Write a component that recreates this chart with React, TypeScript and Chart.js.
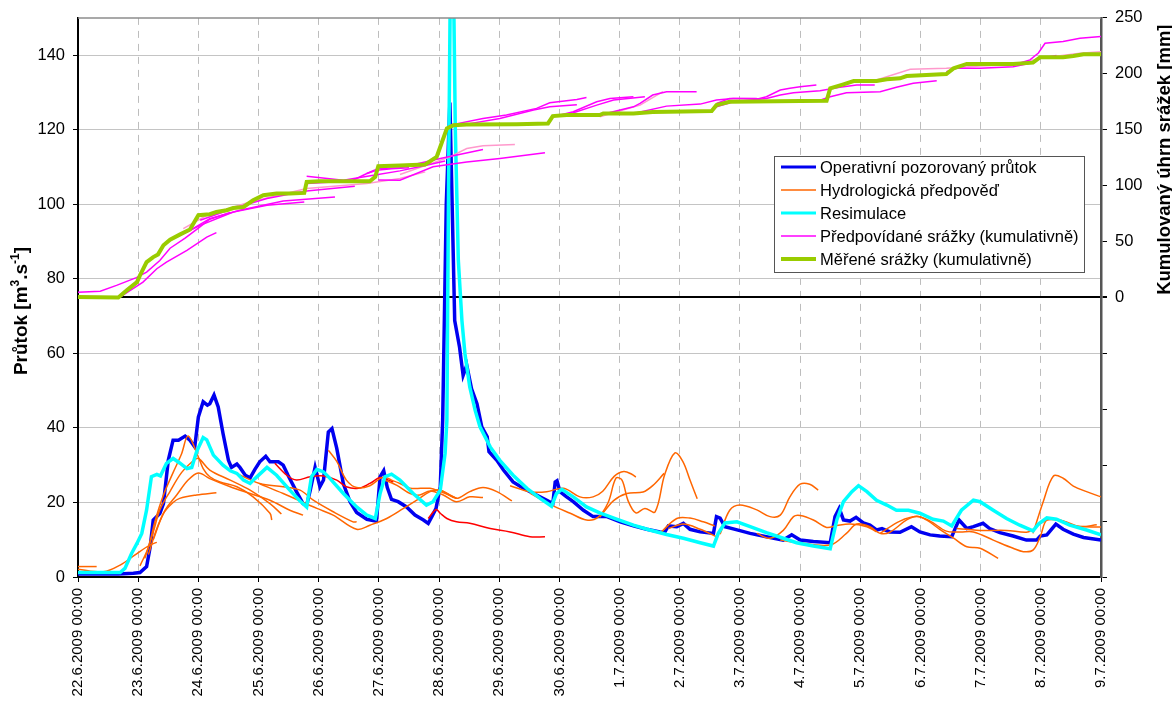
import React, { useEffect, useRef } from 'react';
import { Chart, registerables } from 'chart.js';

Chart.register(...registerables);

type Pt = [number, number];

// x values are days since 22.6.2009 00:00
const dateLabels = [
  '22.6.2009 00:00', '23.6.2009 00:00', '24.6.2009 00:00', '25.6.2009 00:00', '26.6.2009 00:00',
  '27.6.2009 00:00', '28.6.2009 00:00', '29.6.2009 00:00', '30.6.2009 00:00', '1.7.2009 00:00',
  '2.7.2009 00:00', '3.7.2009 00:00', '4.7.2009 00:00', '5.7.2009 00:00', '6.7.2009 00:00',
  '7.7.2009 00:00', '8.7.2009 00:00', '9.7.2009 00:00',
];
const flowTicks = [0, 20, 40, 60, 80, 100, 120, 140];
const rainTicks = [-250, -200, -150, -100, -50, 0, 50, 100, 150, 200, 250];

const legendLabels = [
  'Operativní pozorovaný průtok',
  'Hydrologická předpověď',
  'Resimulace',
  'Předpovídané srážky (kumulativně)',
  'Měřené srážky (kumulativně)',
];

const observedFlow: Pt[] = [
  [0, 0.8], [0.67, 0.8], [0.92, 1.0], [1.03, 1.2], [1.14, 2.8], [1.2, 8.1], [1.25, 15.3], [1.36, 17],
  [1.42, 19.7], [1.5, 31.3], [1.58, 36.7], [1.67, 36.7], [1.78, 37.8], [1.86, 36.7], [1.94, 34.9],
  [2.0, 42.9], [2.08, 47], [2.15, 46.1], [2.19, 46.5], [2.26, 48.8], [2.33, 45.6], [2.41, 38.5],
  [2.5, 31.3], [2.55, 29.4], [2.64, 30.3], [2.69, 29.4], [2.78, 27.3], [2.86, 26.6], [2.94, 28.9],
  [3.02, 30.9], [3.12, 32.4], [3.19, 30.9], [3.33, 30.9], [3.41, 30], [3.49, 27.3], [3.63, 22.9],
  [3.74, 19.7], [3.8, 19.3], [3.86, 23.3], [3.94, 29.4], [4.02, 24.2], [4.08, 26], [4.16, 38.9],
  [4.22, 39.8], [4.3, 34.5], [4.41, 25], [4.52, 20.2], [4.63, 17.3], [4.8, 15.5], [4.96, 15],
  [5.02, 26.9], [5.08, 28.5], [5.14, 24], [5.21, 20.8], [5.32, 20.2], [5.46, 18.8], [5.6, 16.6],
  [5.74, 15.3], [5.82, 14.4], [5.88, 16.2], [5.95, 18.4], [6.02, 24.2], [6.06, 42], [6.12, 100],
  [6.18, 127.3], [6.26, 68.8], [6.34, 61.7], [6.4, 54.1], [6.46, 56.8], [6.54, 50.5], [6.63, 46.5],
  [6.71, 40.3], [6.8, 37.6], [6.83, 33.6], [6.96, 31.3], [7.07, 28.7], [7.23, 25.5], [7.4, 23.8],
  [7.57, 22.4], [7.79, 20.6], [7.89, 19.7], [7.93, 25.5], [7.96, 25.8], [8.01, 22.9], [8.12, 21.5],
  [8.23, 20.2], [8.4, 17.9], [8.56, 16.2], [8.79, 16.2], [9.01, 14.8], [9.23, 13.7], [9.45, 12.8],
  [9.67, 12.1], [9.75, 12], [9.81, 13.7], [9.95, 13.5], [10.06, 14.4], [10.17, 12.8], [10.34, 12.1],
  [10.56, 11.7], [10.61, 16.2], [10.67, 15.8], [10.75, 13.5], [10.89, 12.9], [11.17, 11.7],
  [11.44, 10.8], [11.72, 9.9], [11.86, 11.3], [12.0, 9.9], [12.22, 9.5], [12.5, 9.2], [12.58, 16.2],
  [12.65, 18.4], [12.72, 15.3], [12.83, 15], [12.93, 16], [13.05, 14.5], [13.16, 13.9], [13.27, 12.6],
  [13.36, 13], [13.49, 12.1], [13.66, 12], [13.85, 13.5], [13.99, 12.1], [14.16, 11.3], [14.32, 11],
  [14.52, 10.8], [14.59, 13.5], [14.64, 15.3], [14.77, 13], [14.88, 13.5], [15.04, 14.4], [15.15, 13],
  [15.32, 11.9], [15.54, 11], [15.76, 9.9], [15.93, 9.9], [15.99, 11], [16.1, 11.3], [16.25, 14.2],
  [16.37, 12.8], [16.54, 11.5], [16.71, 10.6], [17, 9.9],
];

const resimulation: Pt[] = [
  [0, 1.2], [0.7, 1.2], [0.78, 2.3], [0.89, 6.3], [0.98, 9], [1.06, 11.7], [1.14, 18], [1.22, 26.9],
  [1.31, 27.5], [1.37, 27.1], [1.47, 30.5], [1.58, 31.8], [1.69, 30.6], [1.81, 29.1], [1.89, 29.4],
  [1.97, 33.6], [2.08, 37.4], [2.14, 36.8], [2.25, 32.7], [2.41, 30], [2.53, 28.5], [2.64, 27.8],
  [2.75, 26], [2.86, 25.1], [2.94, 26.4], [3.14, 29.4], [3.3, 27.3], [3.52, 23.3], [3.69, 20.4],
  [3.8, 18.8], [3.88, 26.9], [3.97, 28.9], [4.08, 28.2], [4.19, 26.4], [4.41, 22.4], [4.63, 18.8],
  [4.8, 16.6], [4.94, 15.7], [5.02, 22.4], [5.1, 26.9], [5.21, 27.6], [5.35, 26], [5.57, 22.4],
  [5.79, 19.3], [5.9, 20.2], [6.02, 23.3], [6.1, 33.1], [6.13, 42], [6.16, 110], [6.21, 200],
  [6.27, 120], [6.32, 85], [6.38, 68.8], [6.43, 59.9], [6.51, 51], [6.6, 44.7], [6.68, 40.3],
  [6.85, 34.9], [7.01, 31.3], [7.23, 27.3], [7.46, 23.8], [7.68, 21.1], [7.87, 19], [7.95, 22.4],
  [8.04, 23.5], [8.23, 21.5], [8.45, 18.8], [8.67, 17.2], [8.95, 15.5], [9.23, 13.9], [9.5, 12.6],
  [9.78, 11.4], [10.06, 10.4], [10.34, 9.2], [10.56, 8.3], [10.64, 11.7], [10.75, 14.5], [10.95, 14.8],
  [11.17, 13.5], [11.44, 11.9], [11.72, 10.4], [11.94, 9.2], [12.22, 8.3], [12.5, 7.6], [12.61, 15.3],
  [12.72, 20.2], [12.86, 22.9], [12.97, 24.5], [13.11, 22.9], [13.27, 20.6], [13.44, 19.3],
  [13.6, 17.9], [13.8, 17.9], [13.99, 17.1], [14.21, 15.5], [14.38, 15], [14.52, 13.7], [14.68, 17.9],
  [14.88, 20.6], [14.99, 20.2], [15.21, 17.9], [15.43, 15.7], [15.65, 13.9], [15.87, 12.4],
  [15.96, 14.2], [16.1, 15.9], [16.26, 15.5], [16.48, 13.9], [16.76, 12.6], [17, 11.3],
];

const hydroForecasts: Pt[][] = [
  [[0, 2.8], [0.31, 2.8]],
  [[0, 2.1], [0.42, 1.4], [0.7, 3.2], [0.98, 6.3], [1.2, 8.6], [1.31, 9.3]],
  [[1.03, 3], [1.17, 8], [1.28, 15], [1.42, 22], [1.58, 28], [1.72, 33], [1.83, 37.8], [2.0, 32.2],
    [2.08, 29.1], [2.19, 26.9], [2.36, 25.5], [2.64, 24.2], [2.91, 21.5], [3.19, 17.1], [3.22, 15.3]],
  [[1.11, 5], [1.25, 12], [1.36, 18], [1.53, 23], [1.72, 28], [1.9, 31], [2.0, 31.8], [2.19, 28.7],
    [2.53, 26], [2.86, 23.3], [3.19, 19.7], [3.38, 16.9]],
  [[1.17, 6], [1.31, 13], [1.45, 18], [1.64, 22], [1.83, 26], [2.0, 27.9], [2.19, 26.4], [2.53, 24.2],
    [2.86, 22.4], [3.19, 20.6], [3.52, 17.9], [3.74, 16.6]],
  [[1.25, 10], [1.42, 17], [1.58, 20], [1.69, 21.1], [1.97, 22], [2.3, 22.6]],
  [[2.58, 28.2], [3.02, 25.1], [3.41, 24.2], [3.69, 23.3], [3.91, 20.6], [4.24, 17.5], [4.57, 14.8],
    [4.63, 14.8]],
  [[3.02, 25], [3.41, 22.4], [3.97, 18.4], [4.24, 16.6], [4.63, 12.8], [4.85, 13.9], [5.13, 15.7],
    [5.41, 18.4], [5.63, 20.6], [5.85, 22.9], [6.02, 23.3], [6.18, 22], [6.29, 21.1]],
  [[4.16, 34], [4.3, 31], [4.46, 26], [4.63, 24], [4.85, 24.5], [5.07, 26.8], [5.21, 26], [5.35, 25.1],
    [5.52, 23.8], [5.85, 23.8], [6.02, 22.9], [6.29, 21.1]],
  [[5.1, 26], [5.3, 24.6], [5.52, 22.4], [5.68, 22], [5.85, 23.1], [6.07, 22], [6.29, 20.2],
    [6.51, 21.5], [6.73, 21.3]],
  [[5.85, 23], [6.02, 23.3], [6.13, 22.4], [6.29, 21.1], [6.51, 22.9], [6.73, 24], [6.96, 22.9],
    [7.21, 20.4]],
  [[7.18, 24.5], [7.51, 22.9], [7.79, 22.9], [8.07, 23.8], [8.34, 21.5], [8.56, 21.5], [8.72, 23],
    [8.91, 27], [9.07, 28.3], [9.21, 27.5], [9.27, 26.8]],
  [[7.51, 22.5], [7.87, 19.3], [8.18, 17.1], [8.45, 15.3], [8.64, 16], [8.81, 20], [8.94, 26.5],
    [9.04, 26], [9.14, 20.5], [9.27, 17.2], [9.42, 18.4], [9.59, 17.5], [9.75, 27.5], [9.92, 33.3],
    [10.05, 31], [10.17, 26], [10.29, 21]],
  [[8.67, 16], [8.9, 20.5], [9.12, 22.4], [9.39, 22.8], [9.55, 24.5], [9.74, 27.8]],
  [[9.67, 11.7], [9.95, 15.7], [10.17, 15.8], [10.39, 14.8], [10.58, 13.7]],
  [[9.81, 13], [10.06, 14.2], [10.34, 12.8], [10.61, 10.8]],
  [[10.67, 11.5], [10.83, 17.9], [11.0, 19.3], [11.28, 18], [11.5, 16.2], [11.67, 16.6], [11.83, 21.5],
    [12.0, 24.9], [12.16, 24.9], [12.3, 23.3]],
  [[11.28, 11.7], [11.5, 10.4], [11.72, 12.5], [11.89, 16.2], [12.0, 16.5], [12.22, 15.3],
    [12.44, 13.3], [12.61, 13.8], [12.83, 14.2], [13.11, 13.5], [13.27, 12.1]],
  [[11.67, 9.9], [11.94, 9.3], [12.5, 8.6], [12.77, 11.7], [12.94, 14.2], [13.16, 13.5], [13.33, 11.7],
    [13.49, 12], [13.77, 15.3], [13.94, 16.3], [14.1, 15.3], [14.32, 12.8], [14.55, 10.4],
    [14.77, 8.1], [14.99, 7.7], [15.29, 5]],
  [[13.33, 11.7], [13.66, 15], [13.94, 16.2], [14.16, 15], [14.43, 12.3], [14.66, 12.1],
    [14.88, 12.1], [15.21, 9.9], [15.54, 7.7], [15.71, 6.8], [15.87, 7.2], [15.99, 10.8],
    [16.1, 15.3], [16.32, 15.3], [16.54, 13.8], [16.76, 13.5], [17, 13.4]],
  [[14.6, 13], [14.77, 12.8], [14.99, 12.5], [15.43, 12.5], [15.76, 12], [15.87, 12.8], [16.1, 15.3],
    [16.37, 15], [16.65, 13.5], [16.93, 14]],
  [[15.87, 11.7], [16.04, 20.2], [16.21, 27.1], [16.37, 26.5], [16.54, 24.4], [16.76, 22.9],
    [17, 21.5]],
];

const redForecasts: Pt[][] = [
  [[3.27, 30.5], [3.47, 27.3], [3.63, 26], [3.86, 26.9], [4.08, 27.1], [4.3, 26], [4.46, 24.2],
    [4.66, 23.8], [4.85, 25.1], [5.02, 26.7], [5.16, 26], [5.24, 25.5]],
  [[5.82, 15.7], [5.95, 18.1], [6.02, 17.1], [6.13, 15.7], [6.29, 14.8], [6.51, 14.4], [6.85, 13],
    [7.18, 12.1], [7.51, 10.8], [7.76, 10.8]],
];

const rainForecasts: Pt[][] = [
  [[0, 4.7], [0.37, 5.6], [0.64, 10.8], [0.97, 17.7], [1.14, 22.7], [1.36, 33], [1.53, 44], [1.78, 53],
    [2.0, 62], [2.19, 70], [2.53, 76]],
  [[0, 0.5], [0.7, 0.3], [1.08, 13.7], [1.31, 25.7], [1.47, 31.6], [1.81, 42.1], [2.14, 54], [2.3, 58]],
  [[1.64, 54], [2.03, 64.5], [2.58, 76.4], [3.14, 82.4], [3.76, 85.4]],
  [[1.81, 58.5], [2.19, 70.5], [2.69, 78], [3.41, 86.3], [4.27, 89.9]],
  [[2.03, 69], [2.58, 79.5], [3.14, 88.4], [3.8, 95.3], [4.6, 99.5]],
  [[3.8, 101.9], [4.24, 103.3], [4.57, 104.8], [4.8, 110.8], [4.96, 113.8], [5.21, 115], [5.5, 116]],
  [[3.8, 108.4], [4.41, 104.8], [4.91, 109.3], [5.35, 113.2], [5.77, 118], [6.1, 122]],
  [[4.8, 110.8], [4.99, 115.3], [5.35, 116], [6.02, 124.3], [6.73, 132.3]],
  [[4.99, 105], [5.35, 104.8], [5.9, 116.8], [6.46, 121.2], [7.01, 124.3], [7.76, 129.3]],
  [[6.18, 154.1], [6.73, 160.1], [7.12, 163.1], [7.62, 169.1], [7.84, 174.1], [8.29, 177.1],
    [8.45, 178.9]],
  [[6.46, 155], [7.01, 160], [7.57, 167.6], [7.84, 170.5], [8.29, 172.3]],
  [[7.9, 161.6], [8.23, 166.1], [8.62, 175], [8.84, 178], [9.23, 179.5]],
  [[8.12, 163.1], [8.62, 172], [8.9, 176.5], [9.42, 179.5]],
  [[8.67, 163.1], [9.23, 170.5], [9.34, 173.5], [9.55, 181], [9.78, 184], [10.28, 184]],
  [[9.23, 164.6], [9.78, 171.1], [10.34, 172.9], [10.61, 176.5], [10.89, 178], [11.28, 178]],
  [[10.61, 173.5], [10.83, 178], [11.31, 177.7], [11.44, 179.5], [11.67, 185.5], [11.83, 187],
    [12.0, 188.4], [12.27, 190]],
  [[10.61, 170.5], [10.89, 175], [11.44, 178], [11.67, 181], [11.89, 183], [12.33, 184.9],
    [12.66, 187.9], [12.94, 190], [13.24, 190]],
  [[12.33, 176.5], [12.5, 179.5], [12.77, 183], [13.33, 184], [13.6, 187.9], [13.88, 191.5],
    [14.27, 193.8]],
  [[14.43, 201.9], [14.6, 204.9], [14.99, 204.9], [15.54, 206.4], [15.82, 209.4], [15.99, 213.9],
    [16.1, 214.8], [16.26, 216.3]],
  [[15.54, 207.9], [15.82, 212.4], [15.96, 218.6], [16.07, 227.3], [16.37, 228.8], [16.65, 231.8],
    [17, 233.3]],
];

const rainForecastsLight: Pt[][] = [
  [[1.75, 61.6], [2.14, 73.5], [2.86, 85.4], [3.8, 97.4], [4.8, 101.9], [5.35, 106.4], [5.77, 112.3]],
  [[5.35, 110], [6.18, 125.7], [6.46, 133.2], [6.73, 135.6], [7.26, 136.8]],
  [[8.67, 161.6], [9.34, 172], [9.72, 184]],
  [[13.27, 194.4], [13.83, 204], [14.43, 204.9], [14.99, 207], [15.54, 208], [15.99, 214],
    [16.65, 218.4], [17, 219.8]],
];

const measuredRain: Pt[] = [
  [0, 0.3], [0.67, 0], [0.81, 6.3], [0.98, 13.7], [1.03, 19.7], [1.14, 31.6], [1.25, 36.1],
  [1.33, 38.5], [1.42, 46.6], [1.53, 51.7], [1.69, 56.2], [1.86, 60.7], [2.0, 73.5], [2.19, 74.4],
  [2.3, 76.4], [2.47, 78], [2.58, 80], [2.75, 80.9], [2.91, 86.9], [3.08, 91.4], [3.3, 92.9],
  [3.52, 92.9], [3.76, 93.5], [3.8, 103.3], [4.02, 103.9], [4.85, 103.9], [4.94, 107.8], [4.99, 117.4],
  [5.35, 118], [5.77, 118.9], [5.96, 125.7], [6.04, 137.7], [6.13, 151.2], [6.24, 154.1],
  [6.46, 154.7], [7.29, 154.9], [7.81, 155.6], [7.89, 162.2], [8.12, 163.1], [8.67, 163.1],
  [8.73, 164.6], [9.23, 164.6], [9.55, 165.8], [10.06, 166.4], [10.53, 166.7], [10.61, 172],
  [10.83, 175], [12.0, 175.6], [12.44, 175.9], [12.5, 187], [12.72, 190.6], [12.89, 193.5],
  [13.27, 193.5], [13.44, 195.1], [13.66, 196], [13.77, 198], [14.1, 198.9], [14.43, 199.8],
  [14.55, 204.9], [14.77, 208.8], [15.54, 208.8], [15.87, 210], [15.99, 214.8], [16.37, 214.8],
  [16.54, 216], [16.71, 217.5], [17, 217.5],
];

const FONT = '"Liberation Sans", Arial, sans-serif';
const C_BLUE = '#0000F0';
const C_ORANGE = '#FF6600';
const C_RED = '#FF0000';
const C_CYAN = '#00FFFF';
const C_MAGENTA = '#FF00FF';
const C_PINK = '#FF99CC';
const C_GREEN = '#99CC00';

const toXY = (arr: Pt[]) => arr.map(([x, y]) => ({ x, y }));

const legendStyles = [
  { color: C_BLUE, width: 3 },
  { color: C_ORANGE, width: 1.5 },
  { color: C_CYAN, width: 3 },
  { color: C_MAGENTA, width: 1.5 },
  { color: C_GREEN, width: 4 },
];

const decorPlugin = {
  id: 'decor',
  afterDraw(chart: any) {
    const { ctx, chartArea } = chart;
    ctx.save();
    // top border of plot area
    ctx.strokeStyle = '#8c8c8c';
    ctx.lineWidth = 1.5;
    ctx.beginPath();
    ctx.moveTo(chartArea.left, chartArea.top);
    ctx.lineTo(chartArea.right, chartArea.top);
    ctx.stroke();

    // left title with superscripts
    const big = `bold 19px ${FONT}`;
    const small = `bold 12px ${FONT}`;
    const parts: [string, string, number][] = [
      ['Průtok [m', big, 0], ['3', small, -8], ['.s', big, 0], ['-1', small, -8], [']', big, 0],
    ];
    ctx.fillStyle = '#000';
    ctx.textBaseline = 'alphabetic';
    ctx.textAlign = 'left';
    let total = 0;
    for (const [t, f] of parts) { ctx.font = f; total += ctx.measureText(t).width; }
    ctx.save();
    ctx.translate(20, 311);
    ctx.rotate(-Math.PI / 2);
    let cx = -total / 2;
    for (const [t, f, dy] of parts) {
      ctx.font = f;
      ctx.fillText(t, cx, 7 + dy);
      cx += ctx.measureText(t).width;
    }
    ctx.restore();

    // right title
    const y2 = chart.scales.y2;
    ctx.save();
    ctx.font = `bold 18.5px ${FONT}`;
    ctx.textAlign = 'center';
    ctx.translate(1163, (y2.getPixelForValue(0) + y2.getPixelForValue(250)) / 2 + 2);
    ctx.rotate(-Math.PI / 2);
    ctx.fillText('Kumulovaný úhrn srážek [mm]', 0, 7);
    ctx.restore();

    // legend
    const bx = 774, by = 156, bw = 310, bh = 116;
    ctx.fillStyle = '#fff';
    ctx.fillRect(bx, by, bw, bh);
    ctx.strokeStyle = '#555';
    ctx.lineWidth = 1;
    ctx.strokeRect(bx + 0.5, by + 0.5, bw, bh);
    ctx.font = `16.5px ${FONT}`;
    ctx.textBaseline = 'middle';
    ctx.textAlign = 'left';
    legendLabels.forEach((lab, i) => {
      const yy = by + 11 + i * 23;
      ctx.strokeStyle = legendStyles[i].color;
      ctx.lineWidth = legendStyles[i].width;
      ctx.beginPath();
      ctx.moveTo(bx + 7, yy);
      ctx.lineTo(bx + 42, yy);
      ctx.stroke();
      ctx.fillStyle = '#000';
      ctx.fillText(lab, bx + 46, yy + 1);
    });
    ctx.restore();
  },
};

export default function App() {
  const ref = useRef<HTMLCanvasElement | null>(null);

  useEffect(() => {
    if (!ref.current) return;
    const line = (data: Pt[], color: string, width: number, axis: string, order: number, tension = 0) => ({
      data: toXY(data),
      borderColor: color,
      backgroundColor: color,
      borderWidth: width,
      pointRadius: 0,
      fill: false,
      tension,
      yAxisID: axis,
      order,
    });
    const datasets: any[] = [
      line(measuredRain, C_GREEN, 4, 'y2', 1),
      ...rainForecasts.map((s) => line(s, C_MAGENTA, 1.5, 'y2', 2)),
      ...rainForecastsLight.map((s) => line(s, C_PINK, 1.5, 'y2', 2)),
      line(resimulation, C_CYAN, 3.5, 'y', 3),
      ...hydroForecasts.map((s) => line(s, C_ORANGE, 1.5, 'y', 4, 0.35)),
      ...redForecasts.map((s) => line(s, C_RED, 1.5, 'y', 4, 0.35)),
      line(observedFlow, C_BLUE, 3.5, 'y', 5),
    ];

    const chart = new Chart(ref.current, {
      type: 'line',
      data: { datasets },
      plugins: [decorPlugin],
      options: {
        animation: false,
        responsive: true,
        maintainAspectRatio: false,
        layout: { padding: { top: 17, left: 0, right: 0, bottom: 0 } },
        plugins: { legend: { display: false }, tooltip: { enabled: false } },
        scales: {
          x: {
            type: 'linear',
            min: 0,
            max: 17,
            position: 'bottom',
            afterBuildTicks: (s: any) => { s.ticks = dateLabels.map((_, i) => ({ value: i })); },
            afterFit: (s: any) => { s.height = 132; },
            ticks: {
              autoSkip: false,
              minRotation: 90,
              maxRotation: 90,
              padding: 6,
              color: '#000',
              font: { family: FONT, size: 15 },
              callback: (v: any) => dateLabels[Math.round(Number(v))] ?? '',
            },
            grid: { color: '#bdbdbd', lineWidth: 1, tickColor: '#000', tickLength: 5 },
            border: { display: true, color: '#000', width: 2, dash: [7, 6] },
          },
          y: {
            type: 'linear',
            min: 0,
            max: 150,
            position: 'left',
            afterBuildTicks: (s: any) => { s.ticks = flowTicks.map((v) => ({ value: v })); },
            afterFit: (s: any) => { s.width = 78; },
            ticks: { color: '#000', padding: 8, font: { family: FONT, size: 16.5 } },
            grid: { color: '#c4c4c4', lineWidth: 1, tickColor: '#000', tickLength: 5 },
            border: { display: true, color: '#000', width: 2 },
          },
          y2: {
            type: 'linear',
            min: -250,
            max: 250,
            position: 'right',
            afterBuildTicks: (s: any) => { s.ticks = rainTicks.map((v) => ({ value: v })); },
            afterFit: (s: any) => { s.width = 71; },
            ticks: {
              color: '#000',
              padding: 8,
              font: { family: FONT, size: 16.5 },
              callback: (v: any) => (Number(v) >= 0 ? String(v) : ''),
            },
            grid: {
              drawOnChartArea: true,
              color: (c: any) => (c.tick && c.tick.value === 0 ? '#000' : 'rgba(0,0,0,0)'),
              lineWidth: (c: any) => (c.tick && c.tick.value === 0 ? 2 : 1),
              tickColor: '#000',
              tickLength: 6,
            },
            border: { display: true, color: '#555', width: 2.5 },
          },
        },
      },
    });
    return () => chart.destroy();
  }, []);

  return (
    <div style={{ position: 'fixed', left: 0, top: 0, width: 1172, height: 709, background: '#fff' }}>
      <canvas ref={ref} />
    </div>
  );
}
